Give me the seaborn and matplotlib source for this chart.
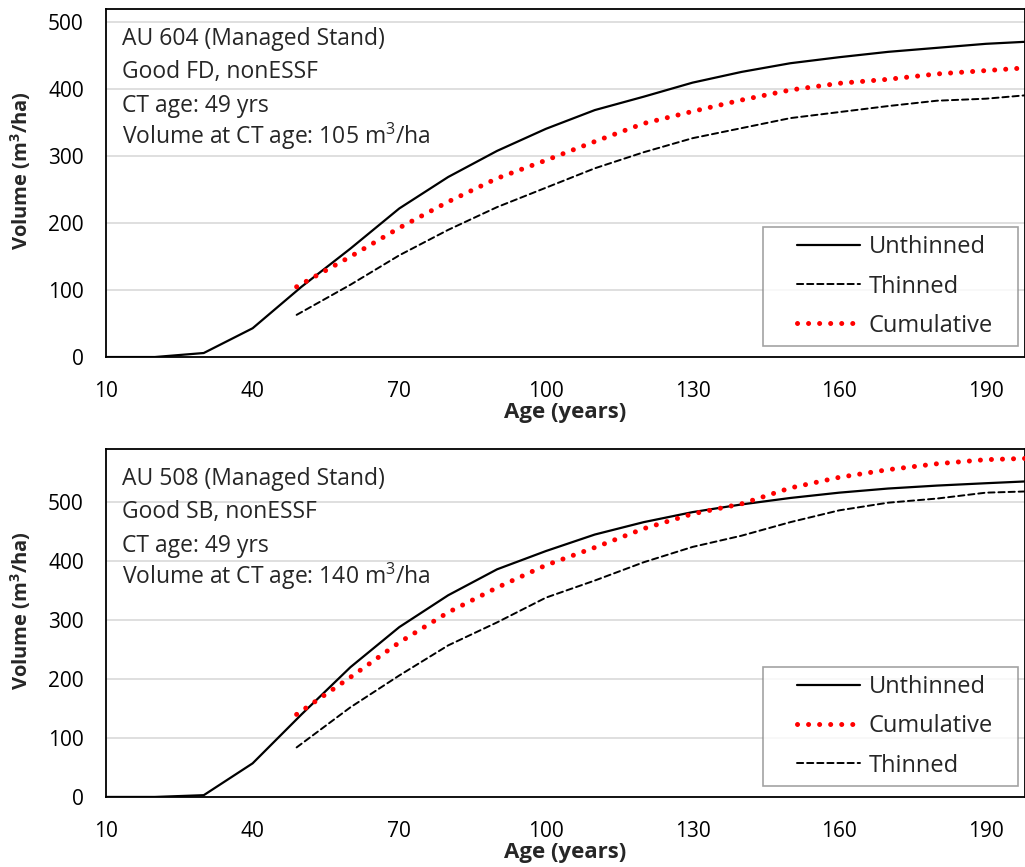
"""
Managed stand volume curves - unthinned vs thinned vs cumulative
"""

import pandas as pd
import matplotlib.pyplot as plt
import seaborn as sns
from matplotlib.path import Path

# Ages (years)
ages = [10, 20, 30, 40, 50, 60, 70, 80, 90, 100, 110, 120, 130, 140, 150, 160, 170, 180, 190, 198]
ct_ages = [49, 60, 70, 80, 90, 100, 110, 120, 130, 140, 150, 160, 170, 180, 190, 198]

# AU 604 (top panel)
au604_unthinned = [0, 0, 6, 43, 105, 162, 222, 269, 308, 341, 369, 389, 410, 426, 439, 448, 456, 462, 468, 471]
au604_thinned = [63, 108, 152, 190, 224, 253, 282, 306, 327, 342, 357, 366, 375, 383, 386, 391]
au604_cumulative = [105, 150, 193, 232, 267, 294, 322, 349, 367, 384, 399, 409, 415, 423, 428, 432]

# AU 508 (bottom panel)
au508_unthinned = [0, 0, 3, 57, 140, 220, 288, 342, 386, 417, 445, 466, 483, 496, 507, 516, 523, 528, 532, 535]
au508_thinned = [84, 152, 206, 257, 296, 338, 367, 398, 424, 443, 466, 486, 499, 506, 516, 518]
au508_cumulative = [140, 203, 262, 313, 355, 393, 423, 455, 480, 497, 524, 542, 555, 565, 572, 574]

au604_text = ["AU 604 (Managed Stand)", "Good FD, nonESSF", "CT age: 49 yrs",
              "Volume at CT age: 105 m$^3$/ha"]
au508_text = ["AU 508 (Managed Stand)", "Good SB, nonESSF", "CT age: 49 yrs",
              "Volume at CT age: 140 m$^3$/ha"]

x_ticks = [10, 40, 70, 100, 130, 160, 190]

sns.set_style("white")
plt.rcParams['font.family'] = ['Open Sans', 'DejaVu Sans']
plt.rcParams['mathtext.fontset'] = 'custom'
plt.rcParams['mathtext.rm'] = 'Open Sans'
plt.rcParams['mathtext.bf'] = 'Open Sans:bold'

fig = plt.figure(figsize=(10.25, 8.67), dpi=100)
ax1 = fig.add_axes([0.1034, 0.5882, 0.8966, 0.4014])
ax2 = fig.add_axes([0.1034, 0.0808, 0.8966, 0.4013])

dot_style = (0, (0.01, 2.2))
dash_style = (0, (3.2, 2.0))
text_rows = [0.897, 0.802, 0.704, 0.612]


def wide_box(x0, y0, width, height, mutation_size):
    # Excel-style legend frame: extra room left and right of the entries
    left = 1.06 * mutation_size
    right = 0.72 * mutation_size
    x1, y1 = x0 + width + right, y0 + height
    x0 = x0 - left
    return Path([(x0, y0), (x1, y0), (x1, y1), (x0, y1), (x0, y0)], closed=True)


def draw_panel(ax, unthinned, thinned, cumulative, lines, ymax, order):
    df_u = pd.DataFrame({'age': ages, 'vol': unthinned})
    df_t = pd.DataFrame({'age': ct_ages, 'vol': thinned})
    df_c = pd.DataFrame({'age': ct_ages, 'vol': cumulative})

    handles = {}
    sns.lineplot(data=df_u, x='age', y='vol', ax=ax, color='black', lw=1.6, label='Unthinned')
    sns.lineplot(data=df_t, x='age', y='vol', ax=ax, color='black', lw=1.4,
                 linestyle=dash_style, label='Thinned')
    sns.lineplot(data=df_c, x='age', y='vol', ax=ax, color='red', lw=3.6,
                 linestyle=dot_style, label='Cumulative', zorder=3)
    for ln in ax.get_lines():
        ln.set_dash_capstyle('round')
        handles[ln.get_label()] = ln

    ax.set_xlim(10, 198)
    ax.set_ylim(0, ymax)
    ax.set_xticks(x_ticks)
    ax.set_yticks(range(0, 501, 100))
    ax.tick_params(axis='both', labelsize=15, length=6, width=1.2, direction='out',
                   colors='black')
    ax.tick_params(axis='y', pad=10)
    ax.tick_params(axis='x', pad=11)
    ax.yaxis.grid(True, color='#d9d9d9', lw=1.2)
    ax.set_axisbelow(True)
    for sp in ax.spines.values():
        sp.set_color('black')
        sp.set_linewidth(1.3)

    ax.set_xlabel('Age (years)', fontsize=16, fontweight='bold')
    ax.set_ylabel('Volume (m$^\\mathbf{3}$/ha)', fontsize=14.5, fontweight='bold')
    ax.xaxis.set_label_coords(0.5, -0.13)
    ax.yaxis.set_label_coords(-0.0795, 0.537)

    # annotation block
    for t, yy in zip(lines, text_rows):
        ax.text(0.0174, yy, t, transform=ax.transAxes, fontsize=16.5,
                va='baseline', ha='left')

    leg = ax.legend([handles[k] for k in order], order, loc='lower right',
                    bbox_to_anchor=(0.974, 0.032), fontsize=17, frameon=True,
                    fancybox=False, edgecolor='#8c8c8c', handlelength=2.7,
                    borderpad=0.35, labelspacing=0.64, handletextpad=0.35,
                    borderaxespad=0)
    leg.get_frame().set_linewidth(1.2)
    leg.get_frame().set_boxstyle(wide_box)


draw_panel(ax1, au604_unthinned, au604_thinned, au604_cumulative, au604_text, 520,
           ['Unthinned', 'Thinned', 'Cumulative'])
draw_panel(ax2, au508_unthinned, au508_thinned, au508_cumulative, au508_text, 590,
           ['Unthinned', 'Cumulative', 'Thinned'])

fig.savefig('out.png', dpi=100)
